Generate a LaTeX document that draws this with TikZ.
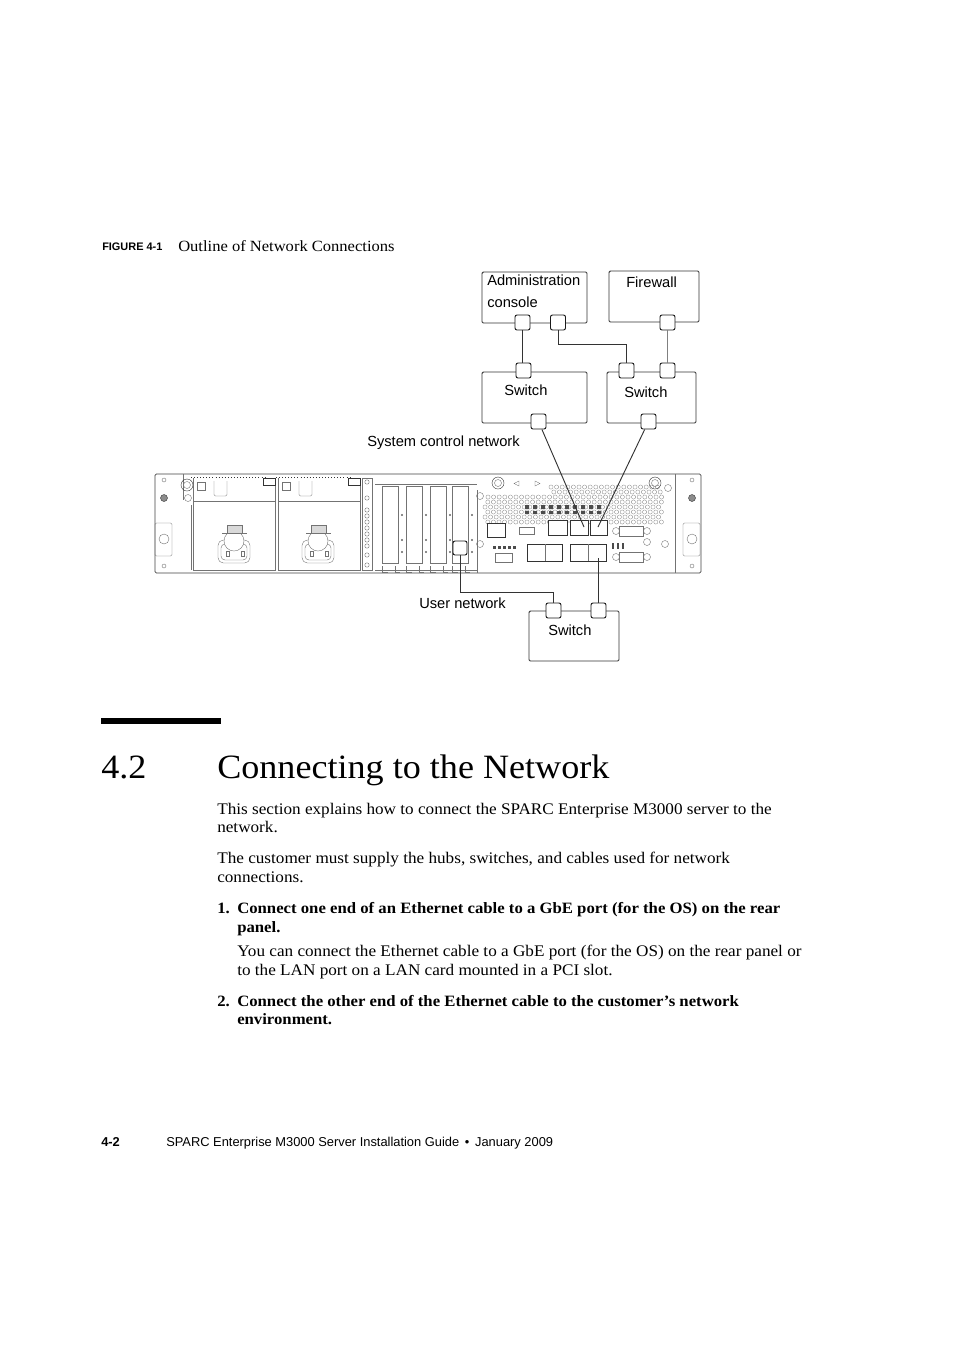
\documentclass[tikz,border=0pt]{standalone}
\usepackage{fontspec}
\setmainfont[FakeStretch=1.06]{Liberation Serif}
\setsansfont{Liberation Sans}
\usetikzlibrary{positioning}
\def\px{0.75pt}
\tikzset{
  unitbox/.style={draw=black!80, line width=0.7pt, rounded corners=1pt, fill=white, inner sep=0pt},
  portbox/.style={draw=black!90, line width=0.7pt, rounded corners=1.5pt, fill=white, inner sep=0pt, minimum size=11.25pt},
  cable/.style={draw=black!80, line width=0.7pt},
  hw/.style={draw=black!55, line width=0.3pt},
  difflabel/.style={font=\sffamily\fontsize{11}{12}\selectfont, anchor=base west, inner sep=0pt},
  bodyline/.style={font=\fontsize{12.15}{14}\selectfont, anchor=base west, inner sep=0pt},
  boldline/.style={font=\bfseries\fontsize{11.83}{14}\selectfont, anchor=base west, inner sep=0pt},
  headline/.style={font=\fontsize{25.55}{30}\selectfont, anchor=base west, inner sep=0pt},
  footline/.style={font=\sffamily\fontsize{9.65}{12}\selectfont, anchor=base west, inner sep=0pt}
}
\begin{document}
\begin{tikzpicture}[x=0.75pt, y=-0.75pt]
\useasboundingbox (0,0) rectangle (954,1350);
% page text
\node[anchor=base west, inner sep=0pt, font=\sffamily\bfseries\fontsize{8.2}{9}\selectfont] (figno) at (102,250) {FIGURE 4-1};
\node[bodyline, font=\fontsize{11.7}{14}\selectfont] (figcap) at (178,251) {Outline of Network Connections};
\fill[black] (101,718) rectangle (221,724);
\node[headline] (secno) at (101,778) {4.2};
\node[headline] (sectitle) at (217,778) {Connecting to the Network};
\foreach \n/\x/\y/\lab in {
  a/217/814/This section explains how to connect the SPARC Enterprise M3000 server to the,
  b/217/832/network.,
  c/217/863/{The customer must supply the hubs, switches, and cables used for network},
  d/217/882/connections.,
  e/237/956/You can connect the Ethernet cable to a GbE port (for the OS) on the rear panel or,
  f/237/975/to the LAN port on a LAN card mounted in a PCI slot.}
  {\node[bodyline] (body\n) at (\x,\y) {\lab};}
\foreach \n/\x/\y/\lab in {
  a/217/913/1.,
  b/237/913/Connect one end of an Ethernet cable to a GbE port (for the OS) on the rear,
  c/237/932/panel.,
  d/217/1006/2.,
  e/237/1006/Connect the other end of the Ethernet cable to the customer’s network,
  f/237/1024/environment.}
  {\node[boldline] (step\n) at (\x,\y) {\lab};}
\node[footline, font=\sffamily\bfseries\fontsize{9.65}{12}\selectfont] (pageno) at (101,1146) {4-2};
\node[footline] (foottext) at (166,1146) {SPARC Enterprise M3000 Server Installation Guide \,•\, January 2009};
% server rear panel
\draw[hw, draw=black!75, line width=0.5pt, rounded corners=1pt] (155,474) rectangle (701,573);
\draw[hw] (183,474) -- (183,500) (191,505) -- (191,570) (675,474) -- (675,573);
\foreach \x in {164,692}{
  \draw[hw] (\x,480) circle (2);
  \draw[hw] (\x,566) circle (2);
  \draw[hw, draw=black!80, fill=black!45] (\x,498) circle (3.5);
  \draw[hw, rounded corners=1pt] (\x-9,523) rectangle (\x+8,556);
  \draw[hw] (\x,539) circle (5);
}
\foreach \x/\y in {187/485,498/483,655/483}{
  \draw[hw, draw=black!80] (\x,\y) circle (6);
  \draw[hw] (\x,\y) circle (3.5);
}
\foreach \x/\y in {188/498,480/496,480/544,665/544,668/488,647/542}{\draw[hw] (\x,\y) circle (3.5);}
\draw[hw] (519,481) -- (514,483.5) -- (519,486) -- cycle (535,481) -- (540,483.5) -- (535,486) -- cycle;
% power supplies
\foreach \hx/\lx in {234/193,318/278}{
  \draw[hw] (\lx,501) rectangle (\lx+82,570);
  \draw[hw] (\lx,478) -- (\lx,501) (\lx+82,478) -- (\lx+82,501);
  \draw[hw, draw=black!80, dotted] (\lx-2,477) -- (\lx+72,477);
  \draw[hw] (\lx+4,482) rectangle (\lx+12,490);
  \draw[hw, rounded corners=1pt] (\lx+21,481) -- (\lx+21,496) -- (\lx+34,496) -- (\lx+34,481);
  \draw[hw, draw=black!80] (\lx+70,478) rectangle (\lx+82,485);
  \draw[hw, rounded corners=4pt] (\hx-16,540) rectangle (\hx+16,563);
  \draw[hw, rounded corners=3pt] (\hx-13,544) rectangle (\hx+13,560);
  \draw[hw, fill=white] (\hx,541) circle (10);
  \draw[hw, fill=black!15] (\hx-7,525) rectangle (\hx+8,533);
  \draw[hw] (\hx-12,533) -- (\hx+13,533);
  \draw[hw] (\hx-8,551) rectangle (\hx-5,556) (\hx+7,551) rectangle (\hx+10,556);
}
\draw[hw] (362,478) rectangle (372,570);
\foreach \y in {482,498,510,516,522,528,534,540,546,555,565}{\draw[hw] (367,\y) circle (2.2);}
% PCI cards
\draw[hw] (375,484) -- (477,484) (375,570) -- (477,570) (477,490) -- (477,573);
\foreach \x in {382,406,430,452}{
  \draw[hw] (\x,486) rectangle (\x+16,563);
  \foreach \y in {515,540,552}{\draw[hw, fill=black!50] (\x+20,\y) circle (0.8);}
  \draw[hw] (\x,566) -- (\x,572) -- (\x+6,572) (\x+13,566) -- (\x+13,572) -- (\x+18,572);
}
% vent holes
\foreach \r in {0,...,7}{
  \pgfmathsetmacro{\rowy}{487+5*\r}
  \pgfmathsetmacro{\rowx}{\r<2 ? 551 : (\r<3 ? 488 : 485)}
  \foreach \c in {0,...,31}{
    \pgfmathsetmacro{\colx}{\rowx+5.6*\c+2.8*mod(\r,2)}
    \pgfmathparse{\colx<663 ? 1 : 0}
    \ifnum\pgfmathresult=1
      \draw[hw, line width=0.2pt] (\colx,\rowy) circle (2.1);
    \fi
  }
}
\foreach \x in {525,533,541,549,557,565,573,581,589,597}{\fill[black!70] (\x,505) rectangle (\x+4,509) (\x,511) rectangle (\x+4,514);}
% rear ports
\draw[hw, draw=black!80, fill=white] (487,523) rectangle (505,537);
\draw[hw, fill=white] (519,527) rectangle (534,534);
\draw[hw, draw=black!80, fill=white] (548,520) rectangle (567,535);
\draw[hw, draw=black!80, fill=white] (570,520) rectangle (588,535);
\draw[hw, draw=black!80, fill=white] (590,520) rectangle (607,535);
\draw[hw, draw=black!80, fill=white] (527,544) rectangle (562,561);
\draw[hw] (545,544) -- (545,561);
\draw[hw, draw=black!80, fill=white] (570,544) rectangle (606,561);
\draw[hw] (588,544) -- (588,561);
\draw[hw, fill=white] (495,553) rectangle (512,562);
\foreach \x in {493,498,503,508,513}{\fill[black!70] (\x,546) rectangle (\x+3,549);}
\foreach \x in {612,617,622}{\fill[black!70] (\x,543) rectangle (\x+2,549);}
\foreach \yy in {531,557}{
  \draw[hw, fill=white] (619,\yy-5) rectangle (643,\yy+5);
  \draw[hw] (616,\yy) circle (3.5) (647,\yy) circle (3.5);
}
% network boxes
\node[unitbox, minimum width=105*\px, minimum height=51*\px] (admin) at (534.5,297.5) {};
\node[unitbox, minimum width=90*\px, minimum height=51*\px] (firewall) at (654,296.5) {};
\node[unitbox, minimum width=105*\px, minimum height=51*\px] (switcha) at (534.5,397.5) {};
\node[unitbox, minimum width=89*\px, minimum height=51*\px] (switchb) at (651.5,397.5) {};
\node[unitbox, minimum width=90*\px, minimum height=50*\px] (switchc) at (574,636) {};
\node[portbox] (adminp) at (522.5,322.5) {};
\node[portbox] (adminq) at (558,322.5) {};
\node[portbox] (firep) at (667.5,322.5) {};
\node[portbox] (switchap) at (523.5,370.5) {};
\node[portbox] (switchaq) at (538.5,421.5) {};
\node[portbox] (switchbp) at (626.5,370.5) {};
\node[portbox] (switchbq) at (667.5,370.5) {};
\node[portbox] (switchbr) at (648.5,421.5) {};
\node[portbox] (switchcp) at (553.5,610.5) {};
\node[portbox] (switchcq) at (598.5,610.5) {};
\node[portbox, minimum size=10.5pt] (pcilan) at (460,548) {};
\coordinate (gbea) at (584,527);
\coordinate (gbeb) at (598,527);
\coordinate (gbec) at (598.5,558);
% connections
\draw[cable] (adminp.south) -- (switchap.north -| adminp.south);
\draw[cable] (adminq) |- (626.5,344) -- (switchbp);
\draw[cable, draw=black!50] (firep) -- (switchbq);
\draw[cable] (switchaq) -- (gbea);
\draw[cable] (switchbr) -- (gbeb);
\draw[cable] (pcilan) |- (553.5,592) -- (switchcp);
\draw[cable] (switchcq) -- (gbec);
% labels
\node[difflabel] (adminlab) at (487,285) {Administration};
\node[difflabel] (consolelab) at (487,307) {console};
\node[difflabel] (firelab) at (626,287) {Firewall};
\node[difflabel] (switchalab) at (504,395) {Switch};
\node[difflabel] (switchblab) at (624,397) {Switch};
\node[difflabel] (switchclab) at (548,635) {Switch};
\node[difflabel] (scnlab) at (367,446) {System control network};
\node[difflabel] (userlab) at (419,608) {User network};
\end{tikzpicture}
\end{document}
